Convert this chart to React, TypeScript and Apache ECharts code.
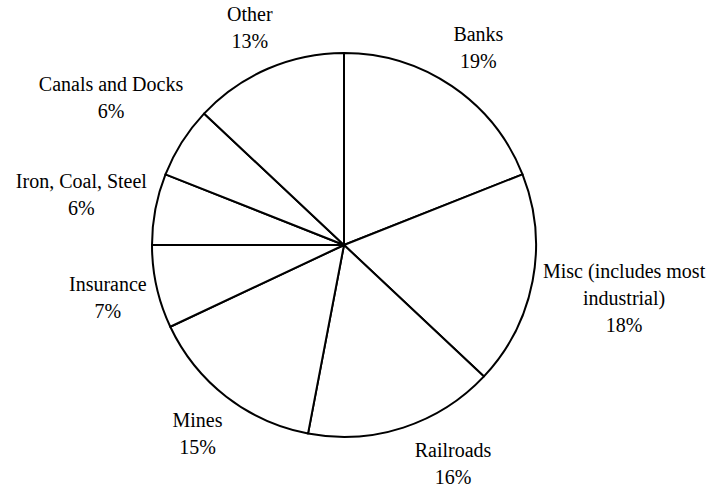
import React, { useEffect, useRef } from "react";
import * as echarts from "echarts";

const categories = [
  "Banks",
  "Misc (includes most industrial)",
  "Railroads",
  "Mines",
  "Insurance",
  "Iron, Coal, Steel",
  "Canals and Docks",
  "Other",
];
const labelNames = [
  "Banks",
  "Misc (includes most\nindustrial)",
  "Railroads",
  "Mines",
  "Insurance",
  "Iron, Coal, Steel",
  "Canals and Docks",
  "Other",
];
const values = [19, 18, 16, 15, 7, 6, 6, 13];

const W = 710;
const H = 491;
const CX = 344;
const CY = 245;
const R = 192;
const GAP = 4.5;
const PADY = 7.5;
const FONT = "Liberation Serif, Times New Roman, serif";

export default function App() {
  const ref = useRef<HTMLDivElement | null>(null);
  useEffect(() => {
    if (!ref.current) return;
    const chart = echarts.init(ref.current, null, { renderer: "svg" });
    const total = values.reduce((a, b) => a + b, 0);
    const mids: number[] = [];
    let cum = 0;
    values.forEach((v) => {
      mids.push(((cum + v / 2) / total) * 360);
      cum += v;
    });

    const place = (deg: number, w: number, h: number) => {
      const a = (deg * Math.PI) / 180;
      const ux = Math.sin(a);
      const uy = -Math.cos(a);
      const d = R + GAP + Math.abs(ux) * (w / 2) + Math.abs(uy) * (h / 2 + PADY);
      return { x: CX + ux * d, y: CY + uy * d };
    };
    const fits = (p: { x: number; y: number }, w: number, h: number) =>
      p.x - w / 2 >= 0 && p.x + w / 2 <= W && p.y - h / 2 >= 0 && p.y + h / 2 <= H;

    chart.setOption({
      animation: false,
      backgroundColor: "#ffffff",
      textStyle: { fontFamily: FONT },
      series: [
        {
          type: "pie",
          center: [CX, CY],
          radius: [0, R],
          startAngle: 90,
          clockwise: true,
          avoidLabelOverlap: false,
          silent: true,
          emphasis: { disabled: true },
          itemStyle: { color: "#ffffff", borderColor: "#000000", borderWidth: 2 },
          label: {
            show: true,
            position: "inside",
            color: "#000000",
            fontFamily: FONT,
            fontSize: 20,
            lineHeight: 27,
            align: "center",
            formatter: (p: any) => labelNames[p.dataIndex] + "\n" + p.value + "%",
          },
          labelLine: { show: false },
          labelLayout: (params: any) => {
            const i = params.dataIndex;
            const w = params.labelRect.width;
            const h = params.labelRect.height;
            let best = place(mids[i], w, h);
            if (!fits(best, w, h)) {
              for (let k = 1; k <= 80; k++) {
                const off = k * 0.5;
                const p1 = place(mids[i] - off, w, h);
                if (fits(p1, w, h)) { best = p1; break; }
                const p2 = place(mids[i] + off, w, h);
                if (fits(p2, w, h)) { best = p2; break; }
              }
            }
            return { x: best.x, y: best.y, align: "center", verticalAlign: "middle" };
          },
          data: categories.map((c, i) => ({ name: c, value: values[i] })),
        },
      ],
    });
    return () => chart.dispose();
  }, []);
  return (
    <div
      ref={ref}
      style={{ position: "fixed", left: 0, top: 0, width: W, height: H, background: "#fff" }}
    />
  );
}
